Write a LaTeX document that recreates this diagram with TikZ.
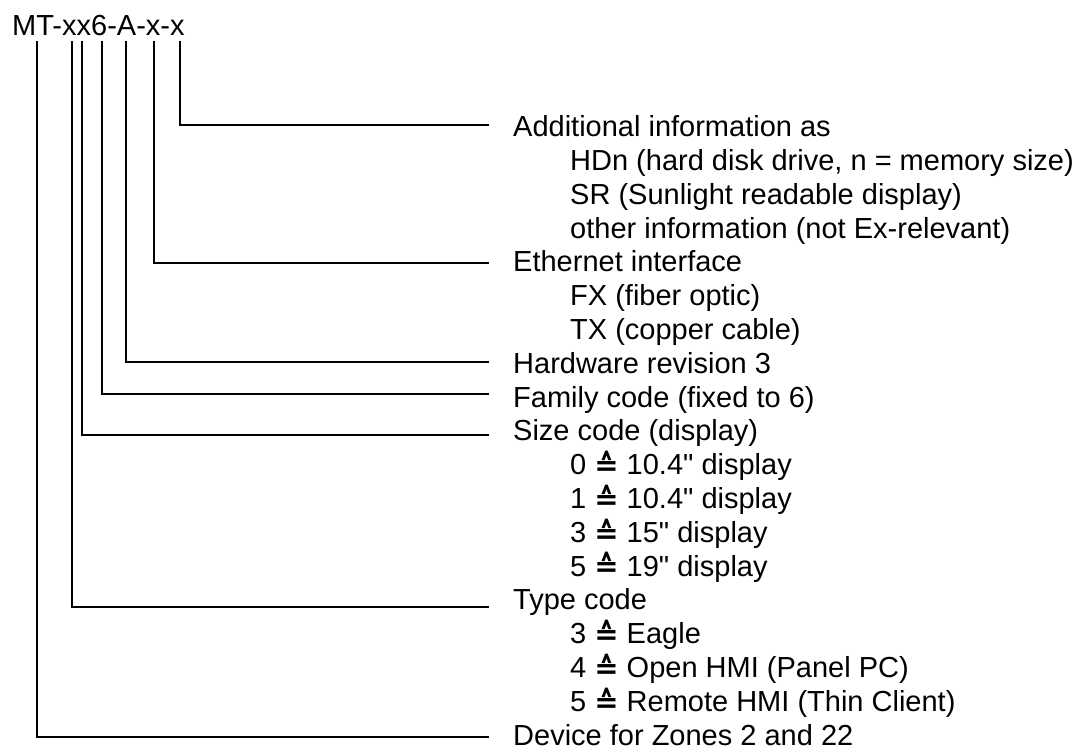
\documentclass[tikz,border=0pt]{standalone}
\usepackage{fontspec}
\usepackage{graphicx}
\setmainfont{Liberation Sans}[Ligatures=TeXOff]
\newfontfamily\symfont{DejaVu Sans}[Ligatures=TeXOff]
\newcommand{\corr}{\raisebox{-0.7pt}{\symfont\bfseries ≙}}
\begin{document}
\begin{tikzpicture}[x=1pt,y=-1pt,
  conn/.style={line width=1.9pt, line join=miter},
  lbl/.style={anchor=base west, inner sep=0pt, font=\fontsize{29}{34}\selectfont}]
\useasboundingbox (0,0) rectangle (1087,751);
\node[lbl] (code) at (12,36) {MT-xx6-A-x-x};
% top points of the connectors
\coordinate (tDev) at (37,41);
\coordinate (tType) at (72,41);
\coordinate (tSize) at (82,41);
\coordinate (tFam) at (102,41);
\coordinate (tHw) at (126,41);
\coordinate (tEth) at (154,41);
\coordinate (tAdd) at (180,41);
% ends of the connectors
\coordinate (eAdd) at (489,125);
\coordinate (eEth) at (489,263);
\coordinate (eHw) at (489,362);
\coordinate (eFam) at (489,394);
\coordinate (eSize) at (489,435);
\coordinate (eType) at (489,607);
\coordinate (eDev) at (489,737);
% labels
\def\ba{136.7}\def\ls{33.8}
\node[lbl] (lAdd) at (513,{\ba+0*\ls}) {Additional information as};
\node[lbl] (lAdd1) at (570,{\ba+1*\ls}) {HDn (hard disk drive, n = memory size)};
\node[lbl] (lAdd2) at (570,{\ba+2*\ls}) {SR (Sunlight readable display)};
\node[lbl] (lAdd3) at (570,{\ba+3*\ls}) {other information (not Ex-relevant)};
\node[lbl] (lEth) at (513,{\ba+4*\ls}) {Ethernet interface};
\node[lbl] (lEth1) at (570,{\ba+5*\ls}) {FX (fiber optic)};
\node[lbl] (lEth2) at (570,{\ba+6*\ls}) {TX (copper cable)};
\node[lbl] (lHw) at (513,{\ba+7*\ls}) {Hardware revision 3};
\node[lbl] (lFam) at (513,{\ba+8*\ls}) {Family code (fixed to 6)};
\node[lbl] (lSize) at (513,{\ba+9*\ls}) {Size code (display)};
\node[lbl] (lSize1) at (570,{\ba+10*\ls}) {0 \corr{} 10.4" display};
\node[lbl] (lSize2) at (570,{\ba+11*\ls}) {1 \corr{} 10.4" display};
\node[lbl] (lSize3) at (570,{\ba+12*\ls}) {3 \corr{} 15" display};
\node[lbl] (lSize4) at (570,{\ba+13*\ls}) {5 \corr{} 19" display};
\node[lbl] (lType) at (513,{\ba+14*\ls}) {Type code};
\node[lbl] (lType1) at (570,{\ba+15*\ls}) {3 \corr{} Eagle};
\node[lbl] (lType2) at (570,{\ba+16*\ls}) {4 \corr{} Open HMI (Panel PC)};
\node[lbl] (lType3) at (570,{\ba+17*\ls}) {5 \corr{} Remote HMI (Thin Client)};
\node[lbl] (lDev) at (513,{\ba+18*\ls}) {Device for Zones 2 and 22};
% connectors
\draw[conn] (tAdd) |- (eAdd);
\draw[conn] (tEth) |- (eEth);
\draw[conn] (tHw) |- (eHw);
\draw[conn] (tFam) |- (eFam);
\draw[conn] (tSize) |- (eSize);
\draw[conn] (tType) |- (eType);
\draw[conn] (tDev) |- (eDev);
\end{tikzpicture}
\end{document}
